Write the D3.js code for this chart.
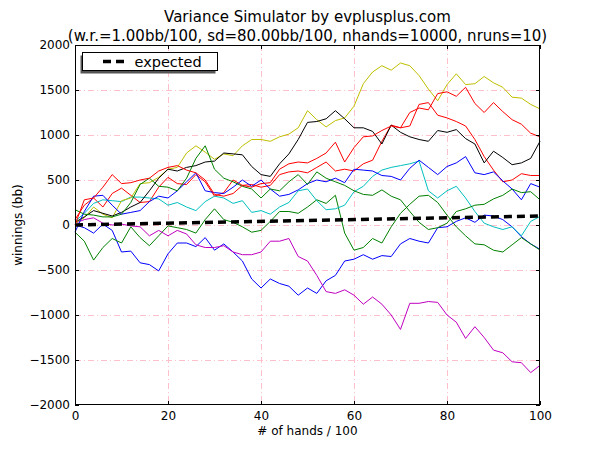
<!DOCTYPE html>
<html><head><meta charset="utf-8">
<script src="https://cdn.jsdelivr.net/npm/d3@7"></script>
<style>body{margin:0;background:#fff} text{font-family:"DejaVu Sans",sans-serif;fill:#000}</style>
</head><body><svg id="c" width="600" height="450"></svg>
<script>
// ---- data ----
const hands = [0,2,4,6,8,10,12,14,16,18,20,22,24,26,28,30,32,34,36,38,40,42,44,46,48,50,52,54,56,58,60,62,64,66,68,70,72,74,76,78,80,82,84,86,88,90,92,94,96,98,100];
const runBlue1 = [0,-30,-90,10,-60,-300,-290,-420,-440,-510,-320,-200,-200,-240,-140,-280,-210,-300,-400,-600,-700,-600,-650,-680,-780,-700,-760,-620,-560,-400,-380,-330,-380,-340,-350,-210,-150,-180,-200,-30,-20,40,80,30,110,100,60,-20,-130,-210,-270];
const runGreen1 = [-80,-180,-390,-250,-150,-200,-20,-140,-230,-120,-10,-30,-50,-90,60,180,60,30,-20,-80,-60,40,150,150,130,200,280,240,330,-90,-280,-250,-150,-200,-20,130,230,320,330,250,110,-20,-120,-210,-220,-280,-300,-220,-140,-210,-278];
const runRed1 = [60,220,300,200,350,410,330,250,260,420,530,460,450,560,480,320,360,500,440,450,420,440,560,590,600,580,640,700,600,620,600,680,720,930,1110,1080,1100,1340,1360,1220,1190,1150,1100,950,760,610,480,500,570,550,550];
const runCyan = [40,130,240,280,270,260,310,310,300,290,220,250,200,160,260,320,300,240,270,140,160,120,200,250,380,400,270,170,180,220,370,430,540,610,640,660,680,710,380,300,380,430,300,150,20,-20,-50,-20,-120,40,95];
const runMagenta = [20,60,80,20,0,10,-10,-20,-120,-60,-120,-60,-100,-220,-250,-250,-230,-300,-330,-330,-300,-180,-180,-150,-350,-400,-560,-740,-760,-720,-780,-880,-800,-880,-1000,-1160,-870,-870,-850,-860,-1000,-1080,-1260,-1130,-1250,-1390,-1420,-1520,-1530,-1640,-1560];
const runYellow = [20,80,200,120,80,270,300,460,470,530,620,640,800,880,810,730,790,770,880,950,950,930,980,1010,1080,1270,1170,1090,1160,1190,1320,1570,1700,1770,1720,1800,1770,1660,1510,1380,1560,1680,1560,1570,1650,1580,1530,1420,1410,1340,1290];
const runBlack = [30,90,160,130,100,140,200,250,380,520,620,600,640,660,700,710,800,790,780,650,560,540,680,790,950,1140,1150,1180,1270,1180,1080,1080,1040,900,1110,1030,980,950,930,1050,1030,1060,960,900,690,820,750,670,690,740,930];
const runBlue2 = [-80,150,320,330,220,120,140,160,260,320,300,380,480,580,380,360,350,420,500,430,500,400,320,340,390,460,500,480,520,470,620,610,600,550,540,500,630,720,640,560,650,690,760,580,560,590,490,400,280,460,420];
const runGreen2 = [170,120,110,90,90,120,250,450,520,430,420,380,520,740,880,620,520,480,430,400,300,400,380,480,560,450,590,520,480,440,380,340,330,390,320,280,150,30,-50,-30,20,150,180,220,230,290,330,400,360,370,280];
const runRed2 = [0,280,300,420,560,460,470,500,520,600,640,660,610,580,500,340,320,350,440,420,460,470,620,680,700,690,740,800,920,700,860,980,990,1050,1100,1080,1250,1300,1280,1460,1480,1430,1530,1350,1250,1360,1260,1170,1120,1020,980];
const expectedX = [0, 100];
const expectedY = [0, 100];
const xTicks = [0,20,40,60,80,100];
const yTicks = [-2000,-1500,-1000,-500,0,500,1000,1500,2000];
const titleLines = ["Variance Simulator by evplusplus.com", "(w.r.=1.00bb/100, sd=80.00bb/100, nhands=10000, nruns=10)"];
const xLabel = "# of hands / 100";
const yLabel = "winnings (bb)";
const legendLabel = "expected";

const runs = [
  {v: runBlue1, c: "#0000ff"}, {v: runGreen1, c: "#008000"}, {v: runRed1, c: "#ff0000"},
  {v: runCyan, c: "#00bfbf"}, {v: runMagenta, c: "#bf00bf"}, {v: runYellow, c: "#bfbf00"},
  {v: runBlack, c: "#000000"}, {v: runBlue2, c: "#0000ff"}, {v: runGreen2, c: "#008000"},
  {v: runRed2, c: "#ff0000"}
];

// ---- drawing ----
const L = 75, R = 540, T = 45, B = 405;
const svg = d3.select("#c");
svg.append("rect").attr("width",600).attr("height",450).attr("fill","#fff");
const x = d3.scaleLinear().domain([0,100]).range([L,R]);
const y = d3.scaleLinear().domain([-2000,2000]).range([B,T]);

// grid
const grid = svg.append("g").attr("stroke","#ffc0cb").attr("stroke-width",1).attr("stroke-dasharray","6,3,1,3");
grid.selectAll(".gx").data(xTicks.slice(1,-1)).join("line")
  .attr("x1",d=>Math.round(x(d))+0.5).attr("x2",d=>Math.round(x(d))+0.5).attr("y1",T).attr("y2",B);
grid.selectAll(".gy").data(yTicks.slice(1,-1)).join("line")
  .attr("y1",d=>Math.round(y(d))+0.5).attr("y2",d=>Math.round(y(d))+0.5).attr("x1",L).attr("x2",R);

// series
const line = d3.line().x((d,i)=>x(hands[i])).y(d=>y(d));
const plot = svg.append("g");
runs.forEach(r => {
  plot.append("path").datum(r.v).attr("d", line).attr("fill","none")
    .attr("stroke", r.c).attr("stroke-width",1).attr("stroke-linejoin","round");
});
const eLine = d3.line().x((d,i)=>x(expectedX[i])).y(d=>y(d));
plot.append("path").datum(expectedY).attr("d", eLine).attr("fill","none")
  .attr("stroke","#000").attr("stroke-width",3.5).attr("stroke-dasharray","8,5");

// frame
svg.append("rect").attr("x",L+0.5).attr("y",T+0.5).attr("width",R-L-1).attr("height",B-T-1)
  .attr("fill","none").attr("stroke","#000").attr("stroke-width",1);

// axes (ticks inward, on all sides)
function styleAxis(g){ g.select(".domain").remove(); g.selectAll("text").style("font-family","DejaVu Sans").style("font-size","12px").attr("fill","#000"); g.selectAll("line").attr("stroke","#000"); }
svg.append("g").attr("transform",`translate(0,${B})`)
  .call(d3.axisBottom(x).tickValues(xTicks).tickSizeInner(-4).tickSizeOuter(0).tickPadding(6).tickFormat(d3.format("d")))
  .call(styleAxis);
svg.append("g").attr("transform",`translate(0,${T})`)
  .call(d3.axisTop(x).tickValues(xTicks).tickSizeInner(-4).tickSizeOuter(0).tickFormat(""))
  .call(styleAxis);
svg.append("g").attr("transform",`translate(${L},0)`)
  .call(d3.axisLeft(y).tickValues(yTicks).tickSizeInner(-4).tickSizeOuter(0).tickPadding(5).tickFormat(d3.format("d")))
  .call(styleAxis);
svg.append("g").attr("transform",`translate(${R},0)`)
  .call(d3.axisRight(y).tickValues(yTicks).tickSizeInner(-4).tickSizeOuter(0).tickFormat(""))
  .call(styleAxis);

// labels
svg.append("text").attr("x",(L+R)/2).attr("y",435).attr("text-anchor","middle").style("font-size","12px").text(xLabel);
svg.append("text").attr("transform",`translate(22,${(T+B)/2}) rotate(-90)`).attr("text-anchor","middle").style("font-size","12px").text(yLabel);
svg.append("text").attr("x",(L+R)/2).attr("y",22).attr("text-anchor","middle").style("font-size","15px").text(titleLines[0]);
svg.append("text").attr("x",(L+R)/2).attr("y",41).attr("text-anchor","middle").style("font-size","15px").text(titleLines[1]);

// legend
const lg = svg.append("g");
lg.append("rect").attr("x",80.5).attr("y",55.5).attr("width",135).attr("height",18).attr("fill","#555");
lg.append("rect").attr("x",82.5).attr("y",52.5).attr("width",135).attr("height",18).attr("fill","#fff").attr("stroke","#000");
lg.append("line").attr("x1",103).attr("x2",124).attr("y1",61.5).attr("y2",61.5).attr("stroke","#000").attr("stroke-width",3.5).attr("stroke-dasharray","8,5");
lg.append("text").attr("x",134.5).attr("y",66.5).style("font-size","14.5px").text(legendLabel);
</script></body></html>
